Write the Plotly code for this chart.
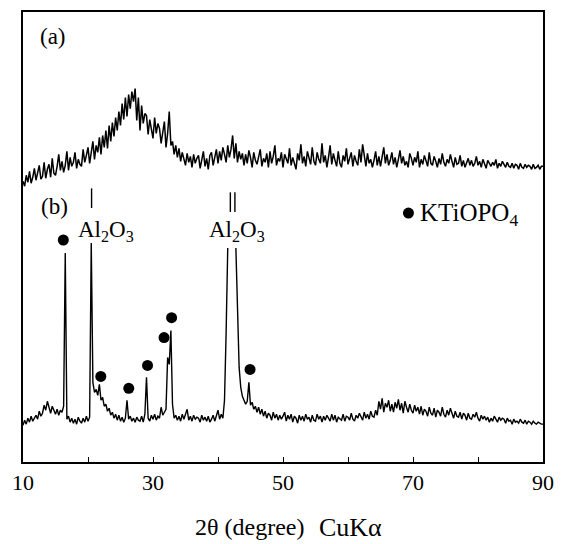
import plotly.graph_objects as go

# 2-theta scan grid (degrees): start, step, number of points
scan_start = 10.0
scan_step = 0.25
two_theta = [scan_start + scan_step * i for i in range(321)]

# (a) amorphous pattern, a.u. (stacked above (b))
pattern_a = [
    282, 277, 288, 281, 292, 280, 286, 295, 283, 291, 298, 284, 287, 301, 285, 294,
    299, 286, 305, 290, 288, 297, 309, 293, 302, 291, 298, 312, 293, 306, 297, 301,
    311, 295, 304, 299, 297, 314, 301, 308, 316, 300, 309, 322, 304, 318, 311, 326,
    309, 328, 316, 333, 315, 338, 322, 341, 327, 346, 333, 352, 338, 360, 344, 366,
    347, 369, 355, 372, 362, 375, 343, 366, 333, 358, 340, 350, 348, 329, 344, 336,
    325, 346, 330, 340, 335, 320, 331, 342, 316, 330, 352, 318, 322, 309, 318, 306,
    315, 302, 311, 305, 298, 310, 301, 307, 296, 309, 300, 305, 308, 295, 303, 312,
    297, 305, 294, 308, 311, 298, 306, 314, 300, 312, 303, 316, 309, 301, 318, 306,
    314, 328, 305, 320, 301, 312, 304, 310, 298, 309, 300, 313, 306, 296, 311, 303,
    299, 308, 314, 297, 305, 301, 310, 296, 312, 300, 307, 318, 298, 305, 302, 311,
    296, 309, 304, 300, 315, 298, 306, 301, 294, 310, 303, 319, 300, 307, 297, 312,
    305, 299, 316, 302, 298, 311, 304, 300, 320, 301, 308, 296, 306, 318, 299, 310,
    303, 297, 312, 300, 296, 308, 302, 315, 299, 305, 311, 297, 308, 302, 298, 314,
    301, 319, 305, 297, 310, 300, 304, 296, 303, 312, 298, 307, 297, 305, 316, 300,
    309, 298, 303, 311, 299, 306, 296, 304, 313, 300, 307, 298, 302, 296, 310, 305,
    298, 306, 301, 312, 296, 304, 299, 308, 303, 297, 311, 300, 298, 307, 302, 296,
    305, 299, 310, 301, 297, 304, 300, 309, 302, 296, 306, 299, 300, 308, 297, 303,
    296, 301, 305, 298, 303, 297, 300, 307, 298, 302, 296, 304, 300, 295, 303, 299,
    297, 301, 298, 304, 295, 300, 297, 302, 299, 296, 301, 297, 296, 300, 295, 299,
    298, 294, 300, 296, 295, 299, 296, 298, 297, 294, 299, 295, 296, 298, 294, 297,
    297,
]

# (b) crystallized pattern, a.u. (off-scale Al2O3 tops left blank)
pattern_b = [
    37, 42, 38, 44, 40, 46, 41, 45, 47, 43, 51, 46, 49, 57, 52, 61,
    54, 49, 56, 51, 48, 53, 47, 52, 50, 56, 210, 43, 46, 40, 44, 39,
    43, 38, 45, 41, 39, 44, 40, 46, 41, 45, 220, 80, 70, 73, 67, 78,
    62, 65, 56, 58, 51, 54, 47, 50, 44, 48, 42, 47, 41, 45, 40, 44,
    62, 43, 46, 41, 44, 40, 45, 42, 41, 46, 40, 48, 85, 44, 41, 47,
    43, 48, 42, 46, 44, 55, 47, 50, 53, 105, 98, 132, 58, 44, 47, 42,
    46, 41, 48, 43, 47, 53, 42, 46, 41, 47, 43, 45, 44, 40, 47, 42,
    45, 41, 46, 40, 43, 47, 41, 46, 52, 43, 48, 44, 62, 130, 215, None,
    None, None, None, 215, 140, 95, 75, 66, 62, 58, 61, 80, 57, 60, 53, 56,
    50, 55, 48, 53, 46, 51, 44, 49, 47, 42, 50, 44, 48, 42, 47, 43,
    46, 50, 41, 47, 43, 48, 40, 46, 44, 39, 47, 42, 46, 41, 48, 43,
    45, 40, 47, 42, 41, 48, 43, 46, 40, 46, 42, 47, 44, 41, 48, 42,
    47, 40, 45, 43, 42, 48, 41, 46, 45, 42, 49, 43, 41, 47, 44, 49,
    46, 42, 50, 44, 48, 43, 51, 46, 45, 52, 47, 61, 53, 64, 50, 59,
    55, 62, 51, 58, 50, 60, 54, 63, 52, 59, 49, 61, 55, 50, 58, 52,
    49, 57, 51, 55, 48, 56, 47, 53, 51, 46, 55, 49, 47, 54, 45, 52,
    50, 46, 55, 48, 45, 52, 47, 54, 49, 44, 51, 46, 45, 50, 43, 49,
    47, 42, 49, 44, 43, 48, 45, 50, 44, 41, 47, 43, 46, 42, 45, 40,
    44, 41, 46, 42, 40, 45, 42, 44, 43, 39, 44, 41, 42, 38, 43, 40,
    41, 39, 43, 40, 39, 42, 38, 41, 40, 38, 41, 39, 38, 40, 39, 38,
    38,
]

# KTiOPO4 reflection markers (2theta, marker height a.u.)
ktp_theta = [16.2, 21.97, 26.27, 29.16, 31.7, 32.86, 44.93]
ktp_height = [223, 86, 74, 97, 125, 145, 93]

# Al2O3 reflection tick marks and labels
al_tick_theta = [20.55, 41.9, 42.6]
al_tick_height = [265, 261, 261]
al_label_theta = [22.8, 42.85]

# x-axis ticks: labelled every 20 degrees, unlabelled every 10
label_ticks = [10, 30, 50, 70, 90]
label_text = ["10", "30", "50", "70", "90"]
minor_ticks = [20, 40, 60, 80]

FONT = "Liberation Serif"

fig = go.Figure()
fig.add_trace(go.Scatter(x=two_theta, y=pattern_a, mode="lines",
                         line=dict(color="black", width=1.5), showlegend=False))
fig.add_trace(go.Scatter(x=two_theta, y=pattern_b, mode="lines",
                         line=dict(color="black", width=1.4), showlegend=False,
                         connectgaps=False))
fig.add_trace(go.Scatter(x=ktp_theta, y=ktp_height, mode="markers",
                         marker=dict(color="black", size=11), showlegend=False))
fig.add_trace(go.Scatter(x=al_tick_theta, y=al_tick_height, mode="markers",
                         marker=dict(symbol="line-ns", size=14, color="black",
                                     line=dict(color="black", width=1.4)),
                         showlegend=False))
# legend dot
fig.add_trace(go.Scatter(x=[69.3], y=[250], mode="markers",
                         marker=dict(color="black", size=11), showlegend=False))

annotations = [
    dict(x=14.6, y=427, text="(a)"),
    dict(x=14.9, y=257, text="(b)"),
    dict(x=70.7, y=249, text="KTiOPO<sub>4</sub>", xanchor="left",
         font=dict(size=25)),
]
for t in al_label_theta:
    annotations.append(dict(x=t, y=232, text="Al<sub>2</sub>O<sub>3</sub>"))

for a in annotations:
    a.setdefault("xanchor", "center")
    a.setdefault("font", dict(size=23))
    a["font"] = dict(family=FONT, color="black", **a["font"])
    a.update(xref="x", yref="y", showarrow=False, yanchor="middle")

annotations.append(dict(x=0.4363, y=-0.145, xref="paper", yref="paper",
                        text="2θ (degree)", showarrow=False,
                        xanchor="center", yanchor="middle",
                        font=dict(family=FONT, size=24, color="black")))
annotations.append(dict(x=0.630, y=-0.145, xref="paper", yref="paper",
                        text="CuKα", showarrow=False,
                        xanchor="center", yanchor="middle",
                        font=dict(family=FONT, size=26, color="black")))

fig.update_layout(
    width=564, height=544,
    margin=dict(l=23, r=15, t=10, b=82),
    paper_bgcolor="white", plot_bgcolor="white",
    annotations=annotations,
    xaxis=dict(range=[10, 90], tickmode="array", tickvals=label_ticks,
               ticktext=label_text,
               ticks="inside", ticklen=5, tickwidth=1.2, tickcolor="black",
               minor=dict(tickmode="array", tickvals=minor_ticks,
                          ticks="inside", ticklen=5, tickwidth=1.2,
                          tickcolor="black", showgrid=False),
               showline=True, linecolor="black", linewidth=1.5, mirror=True,
               showgrid=False, zeroline=False,
               tickfont=dict(family=FONT, size=22, color="black")),
    yaxis=dict(range=[0, 452], showticklabels=False, ticks="",
               showline=True, linecolor="black", linewidth=1.5, mirror=True,
               showgrid=False, zeroline=False),
)

fig.write_html("out.html")
